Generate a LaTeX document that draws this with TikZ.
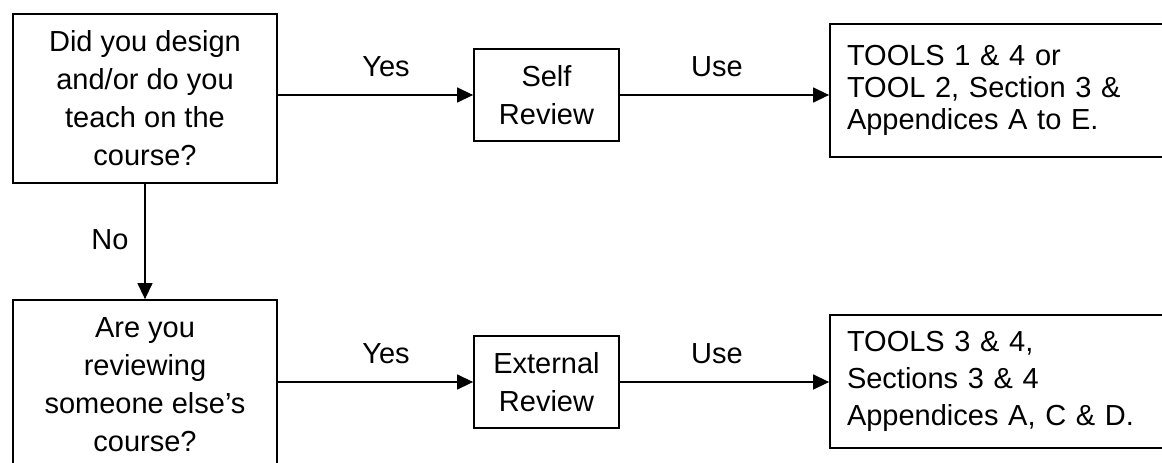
\documentclass[tikz,border=0pt]{standalone}
\usepackage{fontspec}
\setmainfont{Liberation Sans}
\usetikzlibrary{arrows.meta}
\begin{document}
\begin{tikzpicture}[x=1pt,y=-1pt,
  box/.style={draw,line width=1.8pt,align=center,inner sep=0pt,
    font=\fontsize{29}{38}\selectfont},
  rbox/.style={draw,line width=1.8pt,align=left,inner xsep=17pt,inner ysep=0pt,
    text width=311pt,minimum width=345pt,minimum height=133pt,
    font=\fontsize{29}{37}\selectfont},
  conn/.style={line width=1.4pt,-{Triangle[length=16pt,width=15pt]}},
  lbl/.style={font=\fontsize{29}{37}\selectfont}]
\useasboundingbox (0,0) rectangle (1162,463);
\clip (0,0) rectangle (1162,463);
\node[box,minimum width=264pt,minimum height=169pt] (q1) at (145,98.5)
  {Did you design\\and/or do you\\teach on the\\course?};
\node[box,minimum width=145pt,minimum height=92pt] (self) at (546.5,95)
  {Self\\Review};
\node[rbox,font=\fontsize{29}{32}\selectfont] (tr) at (1002.5,90.5)
  {TOOLS 1 \& 4 or\\TOOL 2, Section 3 \&\\Appendices A to E.\par\vspace{11pt}};
\node[box,minimum width=264pt,minimum height=169pt] (q2) at (145,384.5)
  {Are you\\reviewing\\someone else’s\\course?};
\node[box,minimum width=145pt,minimum height=92pt] (ext) at (546.5,382)
  {External\\Review};
\node[rbox] (br) at (1002.5,381.5)
  {TOOLS 3 \& 4,\\Sections 3 \& 4\\Appendices A, C \& D.};
\draw[conn] (q1.east |- self.west) -- (self.west);
\draw[conn] (self.east) -- (self.east -| tr.west);
\draw[conn] (q1.south) -- (q2.north);
\draw[conn] (q2.east |- ext.west) -- (ext.west);
\draw[conn] (ext.east) -- (ext.east -| br.west);
\node[lbl] (y1) at (386,67) {Yes};
\node[lbl] (u1) at (717,67) {Use};
\node[lbl] (no) at (110,240) {No};
\node[lbl] (y2) at (386,354) {Yes};
\node[lbl] (u2) at (717,354) {Use};
\end{tikzpicture}
\end{document}
